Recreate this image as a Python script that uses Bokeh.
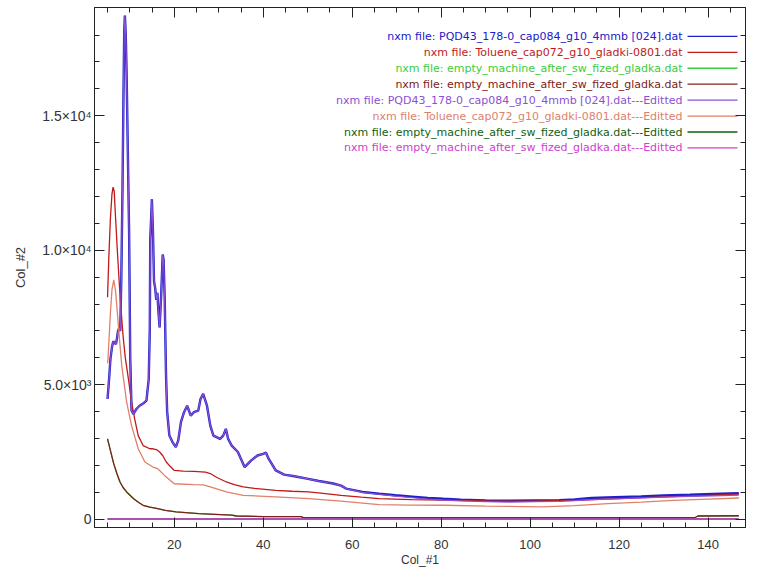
from bokeh.plotting import figure
from bokeh.models import Range1d, LinearAxis, FixedTicker, Label
from bokeh.embed import file_html
from bokeh.resources import INLINE

# ---------------- data ----------------
PQD_X = [5.0, 5.3, 5.65, 6.0, 6.3, 6.6, 6.9, 7.1, 7.35, 7.6, 7.86, 8.1, 8.37, 8.6, 8.75, 8.9,
         9.1, 9.3, 9.56, 9.85, 10.1, 10.4, 10.8, 11.5, 12.2, 13.0, 13.75, 14.26, 14.5, 14.6,
         14.97, 15.2, 15.45, 15.7, 15.95, 16.2, 16.45, 16.7, 17.05, 17.4, 17.6, 17.85, 18.15,
         18.4, 18.9, 19.6, 20.35, 20.9, 21.5, 22.2, 22.9, 23.7, 24.4, 25.4, 25.9, 26.5, 27.35,
         28.1, 28.8, 30.3, 31.0, 31.6, 32.1, 32.9, 34.3, 35.8, 37.3, 38.7, 40.0, 40.6, 41.2,
         42.8, 44.7, 47.0, 49.8, 52.5, 55.7, 57.5, 58.6, 62.3, 66.0, 69.7, 73.5, 77.0, 80.5,
         84.4, 90.0, 95.4, 101.0, 106.5, 110.0, 113.8, 119.0, 124.9, 130.0, 135.9, 141.0, 146.9]
PQD_Y = [4470, 5100, 5950, 6400, 6620, 6550, 6510, 6700, 6990, 7100, 7000, 9000, 12370, 16020,
         18110, 18730, 17990, 16450, 13670, 10650, 6000, 4040, 3910, 4100, 4220, 4300, 4410,
         5210, 7060, 10380, 11900, 10770, 8850, 8600, 8160, 8420, 7700, 7130, 8300, 9840, 9650,
         8200, 5340, 4000, 3110, 2870, 2680, 2930, 3610, 3980, 4220, 3850, 3980, 4040, 4470,
         4660, 4220, 3480, 3110, 2990, 3110, 3360, 2990, 2740, 2500, 1940, 2190, 2370, 2430,
         2480, 2250, 1815, 1660, 1600, 1510, 1420, 1330, 1250, 1140, 1015, 950, 890, 840, 790,
         760, 730, 700, 690, 700, 710, 740, 790, 820, 850, 880, 910, 940, 970]
PQD_EDIT_Y = [4470, 5100, 5950, 6400, 6620, 6550, 6510, 6700, 6990, 7100, 7000, 9000, 12370, 16020,
              18110, 18730, 17990, 16450, 13670, 10650, 6000, 4040, 3910, 4100, 4220, 4300, 4410,
              5210, 7060, 10380, 11900, 10770, 8850, 8600, 8160, 8420, 7700, 7130, 8300, 9840, 9650,
              8200, 5340, 4000, 3110, 2870, 2680, 2930, 3610, 3980, 4220, 3850, 3980, 4040, 4470,
              4660, 4220, 3480, 3110, 2990, 3110, 3360, 2990, 2740, 2500, 1940, 2190, 2370, 2430,
              2480, 2250, 1815, 1660, 1600, 1510, 1420, 1330, 1250, 1140, 1000, 930, 860, 800, 750,
              710, 680, 650, 640, 650, 660, 690, 730, 760, 790, 820, 850, 870, 900]

TOL_X = [5.0, 5.3, 5.65, 6.0, 6.25, 6.5, 6.75, 7.2, 7.86, 8.5, 9.0, 9.7, 10.4, 11.1, 11.9, 13.0,
         14.5, 15.2, 16.0, 16.7, 17.4, 18.2, 18.9, 20.0, 22.0, 24.4, 27.0, 28.1, 29.5, 31.7,
         33.5, 35.5, 38.0, 42.8, 46.5, 50.2, 54.0, 57.5, 62.0, 66.0, 73.4, 80.0, 90.0, 100.0,
         110.0, 120.0, 130.0, 140.0, 146.9]
TOL_Y = [8250, 9780, 11200, 12100, 12350, 12200, 11380, 10000, 8170, 6800, 6000, 5210, 4350,
         3730, 3110, 2740, 2620, 2620, 2590, 2500, 2370, 2130, 2000, 1815, 1790, 1780, 1755,
         1700, 1560, 1385, 1290, 1200, 1150, 1075, 1040, 1015, 950, 890, 820, 770, 730, 710,
         680, 670, 700, 770, 830, 890, 930]

TOL_EDIT_X = [5.0, 5.1, 5.65, 6.0, 6.4, 6.8, 7.2, 7.5, 8.2, 9.3, 10.4, 11.9, 13.4, 15.2, 16.3,
              17.8, 20.0, 24.4, 26.5, 28.1, 31.7, 35.5, 42.8, 50.2, 57.5, 66.0, 73.0, 80.7,
              90.0, 102.7, 110.0, 117.5, 125.0, 132.2, 140.0, 146.9]
TOL_EDIT_Y = [5800, 5950, 7680, 8540, 8900, 8500, 7700, 7060, 5700, 4350, 3480, 2620, 2130,
              1940, 1880, 1630, 1320, 1285, 1280, 1200, 1015, 890, 830, 770, 670, 545, 525,
              520, 490, 460, 510, 580, 640, 705, 750, 790]

EMPTY_X = [5.0, 5.5, 6.4, 7.1, 7.8, 8.5, 9.3, 10.8, 12.0, 13.0, 14.5, 16.0, 18.0, 20.4, 25.5,
           32.9, 34.0, 40.0, 48.5, 49.0, 80.0, 120.0, 137.0, 137.7, 146.9]
EMPTY_Y = [2990, 2650, 2060, 1700, 1385, 1180, 1015, 770, 620, 520, 450, 400, 330, 275, 210,
           150, 120, 100, 100, 60, 55, 55, 55, 120, 130]

EMPTY_EDIT_X = [5.0, 40.0, 80.0, 120.0, 146.9]
EMPTY_EDIT_Y = [10, 10, 10, 10, 10]

LABELS = [
    "nxm file: PQD43_178-0_cap084_g10_4mmb [024].dat",
    "nxm file: Toluene_cap072_g10_gladki-0801.dat",
    "nxm file: empty_machine_after_sw_fized_gladka.dat",
    "nxm file: empty_machine_after_sw_fized_gladka.dat",
    "nxm file: PQD43_178-0_cap084_g10_4mmb [024].dat---Editted",
    "nxm file: Toluene_cap072_g10_gladki-0801.dat---Editted",
    "nxm file: empty_machine_after_sw_fized_gladka.dat---Editted",
    "nxm file: empty_machine_after_sw_fized_gladka.dat---Editted",
]
COLORS = ["#2020c8", "#c01a1a", "#3ccc3c", "#802020", "#8c50d2", "#e0806a", "#106010", "#d040d0"]
WIDTHS = [2.4, 1.3, 1.3, 1.3, 1.2, 1.3, 1.5, 1.5]

X_TICKS = [20, 40, 60, 80, 100, 120, 140]
X_MINOR = [5, 10, 15, 25, 30, 35, 45, 50, 55, 65, 70, 75, 85, 90, 95, 105, 110, 115, 125, 130, 135, 145]
Y_TICKS = [0, 5000, 10000, 15000]
Y_MINOR = [1000, 2000, 3000, 4000, 6000, 7000, 8000, 9000, 11000, 12000, 13000, 14000,
           16000, 17000, 18000]
Y_TICK_LABELS = {0: "0", 5000: "5.0×10³", 10000: "1.0×10⁴", 15000: "1.5×10⁴"}

# ---------------- figure ----------------
W, H = 746, 569
FL, FR, FT, FB = 94, 745, 7, 529
X0, X1 = 2.07, 148.4
Y0, Y1 = -307, 19026

p = figure(width=W, height=H, output_backend="svg", toolbar_location=None,
           x_range=Range1d(X0, X1), y_range=Range1d(Y0, Y1),
           min_border_left=FL, min_border_right=W - FR, min_border_top=FT,
           min_border_bottom=H - FB)
p.background_fill_color = "white"
p.border_fill_color = "white"
p.outline_line_color = "#222222"
p.grid.visible = False

series = [
    (PQD_X, PQD_Y), (TOL_X, TOL_Y), (EMPTY_X, EMPTY_Y), (EMPTY_X, EMPTY_Y),
    (PQD_X, PQD_EDIT_Y), (TOL_EDIT_X, TOL_EDIT_Y), (EMPTY_EDIT_X, EMPTY_EDIT_Y),
    (EMPTY_EDIT_X, EMPTY_EDIT_Y),
]
for (xs, ys), c, w in zip(series, COLORS, WIDTHS):
    p.line(xs, ys, line_color=c, line_width=w)

FONT = "Liberation Sans"


def style_axis(ax):
    ax.axis_line_color = "#222222"
    ax.major_tick_line_color = "#222222"
    ax.minor_tick_line_color = "#222222"
    ax.major_tick_in = 10
    ax.major_tick_out = 0
    ax.minor_tick_in = 5
    ax.minor_tick_out = 0
    ax.major_label_text_font = FONT
    ax.major_label_text_color = "#333333"
    ax.major_label_text_font_size = "14px"
    ax.axis_label_text_font = FONT
    ax.axis_label_text_font_style = "normal"
    ax.axis_label_text_color = "#333333"
    ax.axis_label_text_font_size = "13px"


xb = p.xaxis[0]
xb.ticker = FixedTicker(ticks=X_TICKS, minor_ticks=X_MINOR)
style_axis(xb)
xb.major_label_text_font_size = "13px"
xb.axis_label_text_font_size = "12px"
xb.axis_label = "Col_#1"
xb.major_label_standoff = 12
xb.axis_label_standoff = 1

yl = p.yaxis[0]
yl.ticker = FixedTicker(ticks=Y_TICKS, minor_ticks=Y_MINOR)
style_axis(yl)
yl.major_label_overrides = Y_TICK_LABELS
yl.axis_label = "Col_#2"
yl.major_label_standoff = 3
yl.axis_label_standoff = 11

xt = LinearAxis(ticker=FixedTicker(ticks=X_TICKS, minor_ticks=X_MINOR))
style_axis(xt)
xt.major_label_overrides = {t: "" for t in X_TICKS}
xt.major_label_standoff = 0
p.add_layout(xt, "above")
yr = LinearAxis(ticker=FixedTicker(ticks=Y_TICKS, minor_ticks=Y_MINOR))
style_axis(yr)
yr.major_label_overrides = {t: "" for t in Y_TICKS}
yr.major_label_standoff = 0
p.add_layout(yr, "right")


# legend (text right-aligned, sample line on the right)
def dx(cx):
    return X0 + (cx - FL) / (FR - FL) * (X1 - X0)


def dy(cy):
    return Y1 - (cy - FT) / (FB - FT) * (Y1 - Y0)


for i, (lab, c) in enumerate(zip(LABELS, COLORS)):
    cy = 36 + 16 * i
    p.add_layout(Label(x=dx(682), y=dy(cy), text=lab, text_align="right",
                       text_baseline="middle", text_color=c, text_font="DejaVu Sans",
                       text_font_size="11px"))
    p.segment(x0=[dx(687)], y0=[dy(cy)], x1=[dx(737)], y1=[dy(cy)], line_color=c,
              line_width=1.3)

open("out.html", "w").write(file_html(p, INLINE))
